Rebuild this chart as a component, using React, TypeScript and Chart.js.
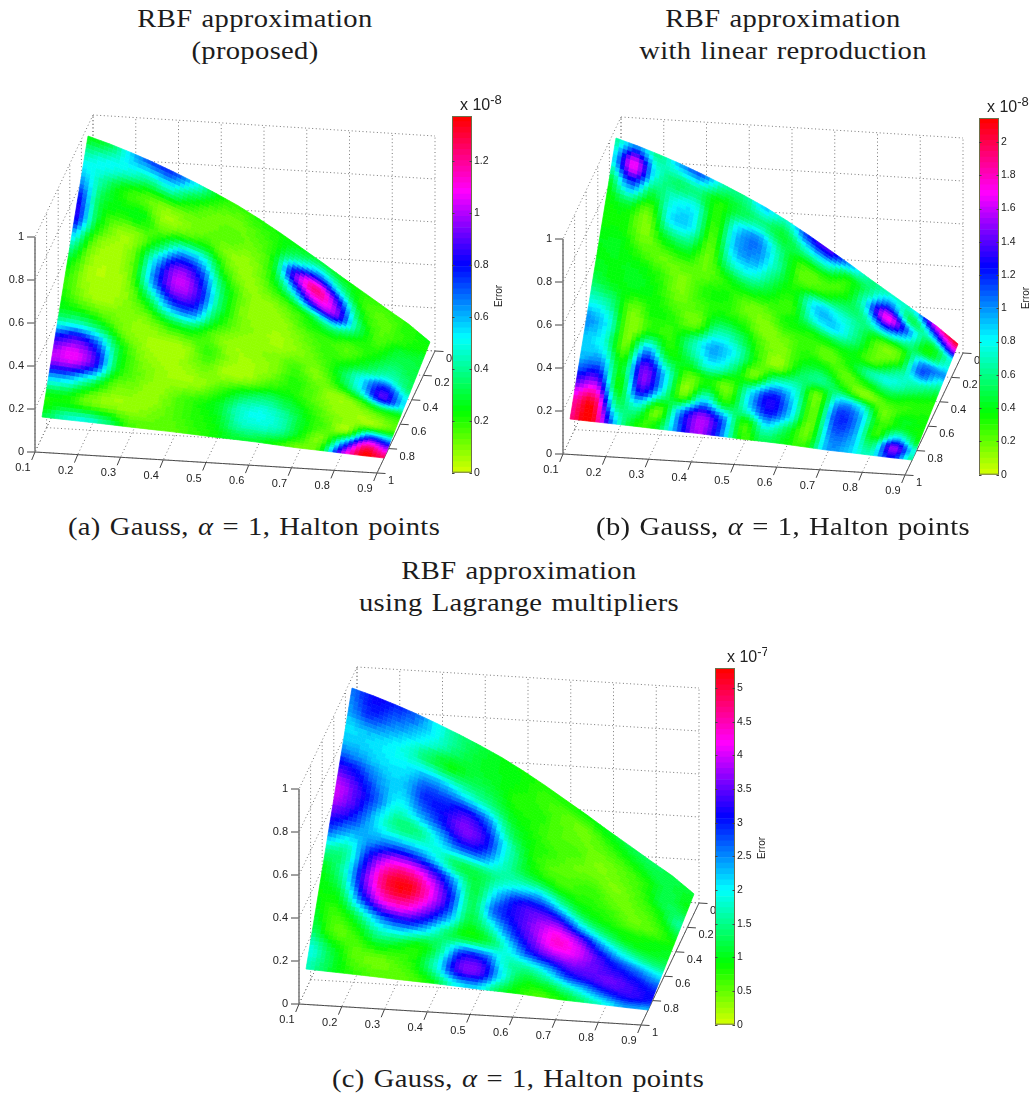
import React, { useEffect, useRef } from "react";
import { Chart, registerables } from "chart.js";

Chart.register(...registerables);

// Axis ticks of the 3D box
const X_TICKS = [0.1, 0.2, 0.3, 0.4, 0.5, 0.6, 0.7, 0.8, 0.9];
const Y_TICKS = [0, 0.2, 0.4, 0.6, 0.8, 1];
const Z_TICKS = [0, 0.2, 0.4, 0.6, 0.8, 1];

// Mesh coordinates of the surface
const MESH_X = [0.1, 0.15, 0.2, 0.25, 0.3, 0.35, 0.4, 0.45, 0.5, 0.55, 0.6, 0.65, 0.7, 0.75, 0.8, 0.85, 0.9];
const MESH_Y = [0.086, 0.143, 0.199, 0.256, 0.313, 0.369, 0.426, 0.483, 0.539, 0.596, 0.652, 0.709, 0.766, 0.822, 0.879];

// Surface height, one list per mesh column
const HEIGHT_COLUMNS = [
  [.951,.890,.829,.767,.706,.645,.584,.523,.461,.400,.339,.277,.216,.155,.094],
  [.921,.862,.802,.743,.683,.624,.565,.505,.446,.386,.327,.268,.208,.148,.089],
  [.887,.830,.772,.715,.657,.600,.543,.485,.428,.370,.313,.256,.198,.141,.084],
  [.850,.795,.740,.685,.630,.575,.519,.464,.409,.354,.299,.244,.189,.134,.079],
  [.809,.756,.704,.651,.599,.546,.493,.441,.388,.336,.283,.231,.178,.125,.073],
  [.766,.716,.666,.616,.566,.517,.467,.417,.367,.317,.267,.217,.168,.118,.068],
  [.720,.673,.626,.579,.532,.485,.439,.392,.345,.298,.251,.204,.157,.110,.063],
  [.671,.627,.583,.539,.496,.452,.408,.364,.320,.276,.232,.189,.145,.101,.057],
  [.615,.575,.534,.494,.453,.413,.373,.332,.292,.251,.211,.171,.130,.090,.050],
  [.555,.519,.482,.446,.409,.373,.336,.300,.264,.227,.191,.154,.118,.081,.045],
  [.491,.459,.426,.394,.362,.329,.297,.265,.233,.200,.168,.136,.104,.071,.039],
  [.427,.399,.370,.342,.314,.285,.257,.229,.201,.172,.144,.116,.088,.059,.031],
  [.360,.336,.312,.288,.264,.240,.215,.191,.167,.143,.119,.095,.071,.047,.023],
  [.296,.276,.256,.236,.216,.197,.177,.157,.137,.117,.097,.077,.058,.038,.018],
  [.231,.215,.200,.184,.169,.153,.137,.122,.106,.090,.075,.059,.043,.028,.012],
  [.168,.156,.145,.133,.122,.110,.098,.087,.075,.064,.052,.040,.029,.017,.006],
  [.091,.085,.078,.072,.065,.059,.052,.046,.040,.033,.027,.020,.014,.007,.001],
];

// Error, one list per mesh row (back to front), in units of the colour bar
const ERROR_A = [
  [.25,.3,.55,.72,.75,.55,.28,.18,.2,.22,.25,.3,.25,.2,.18,.2,.25],
  [.45,.5,.48,.4,.45,.28,.15,.12,.15,.22,.45,.65,.45,.2,.14,.2,.22],
  [.6,.4,.22,.15,.1,.12,.12,.15,.12,.25,.9,1.2,.85,.3,.15,.2,.28],
  [.8,.32,.24,.25,.1,.15,.2,.1,.08,.2,.55,.95,.95,.4,.16,.28,.3],
  [.85,.3,.1,.1,.3,.6,.55,.2,.08,.12,.2,.32,.42,.25,.2,.32,.3],
  [.55,.15,.06,.15,.6,.95,.8,.35,.12,.07,.1,.18,.2,.15,.25,.38,.32],
  [.3,.08,.05,.15,.65,.98,.88,.4,.12,.08,.07,.12,.18,.2,.35,.5,.35],
  [.2,.07,.05,.1,.35,.68,.7,.3,.12,.08,.06,.1,.15,.3,.55,.8,.5],
  [.22,.12,.08,.1,.12,.25,.28,.15,.07,.08,.1,.16,.1,.25,.5,.85,.5],
  [.35,.38,.28,.12,.07,.06,.08,.18,.08,.06,.1,.2,.14,.08,.15,.3,.25],
  [.8,.9,.7,.28,.1,.06,.07,.12,.06,.08,.18,.22,.15,.08,.07,.1,.15],
  [1.0,1.05,.85,.3,.14,.08,.06,.08,.18,.3,.38,.32,.22,.12,.08,.12,.2],
  [.6,.55,.35,.14,.1,.07,.14,.2,.28,.45,.5,.42,.25,.15,.12,.7,.6],
  [.22,.22,.12,.08,.07,.1,.15,.2,.25,.42,.45,.4,.22,.12,.6,1.2,1.0],
  [.3,.45,.5,.38,.18,.15,.14,.18,.22,.28,.28,.2,.12,.2,.95,1.37,1.25],
];

const ERROR_B = [
  [.6,1.0,.6,.95,1.1,.7,.6,.9,.7,1.2,1.4,.95,.6,.7,.8,1.7,2.1],
  [.8,1.7,.8,.55,.6,.35,.5,.6,.45,.7,.8,.4,.6,1.1,.5,1.0,1.6],
  [.45,1.05,.5,.75,.8,.3,.85,1.0,.6,.3,.3,.3,.8,1.7,1.0,.45,.8],
  [.35,.45,.2,.8,.8,.25,.9,1.0,.65,.25,.3,.5,.6,1.0,.7,.4,.8],
  [.35,.35,.15,.45,.5,.2,.7,.8,.5,.35,.85,.8,.6,.3,.3,.95,1.0],
  [.4,.4,.25,.2,.25,.2,.35,.45,.35,.3,.75,.85,.55,.2,.3,1.1,.7],
  [.4,.4,.4,.3,.15,.3,.35,.2,.2,.35,.35,.4,.4,.25,.6,.75,.5],
  [.5,.4,.4,.35,.2,.25,.35,.3,.15,.2,.3,.2,.35,.65,.75,.55,.35],
  [.75,.6,.2,.35,.3,.2,.65,.55,.25,.15,.35,.4,.2,.35,.5,.35,.3],
  [1.0,.8,.15,.35,.3,.65,.95,.75,.3,.15,.5,.6,.4,.15,.25,.3,.35],
  [.9,.75,.2,1.0,.4,.5,.8,.55,.2,.7,.7,.2,.9,.8,.2,.4,.35],
  [.95,1.0,.4,1.45,.85,.2,.35,.2,.8,1.25,.85,.2,1.12,1.0,.3,.45,.35],
  [1.35,1.45,.35,1.35,.8,.2,.8,.35,.8,1.25,.85,.2,1.1,1.0,.3,.9,.4],
  [1.8,2.0,.6,.7,.2,1.0,1.5,1.05,.3,.8,.5,.2,1.0,.95,.55,1.5,.7],
  [1.9,2.14,1.0,.35,.4,1.05,1.55,1.1,.3,.5,.4,.3,.95,.9,.7,1.25,.6],
];

const ERROR_C = [
  [2.6,3.1,3.0,2.7,2.0,1.5,1.2,1.0,.9,.8,.8,.9,1.0,1.2,1.3,1.2,1.1],
  [2.4,2.9,2.6,2.3,1.9,1.4,1.1,1.0,.9,.7,.6,.5,.7,.9,1.1,1.2,1.0],
  [2.1,2.2,2.1,1.8,1.3,1.0,1.2,1.1,.8,.8,.6,.5,.5,.6,.8,1.2,1.0],
  [2.5,2.3,2.1,2.1,2.4,2.2,1.8,1.5,1.0,.8,.6,.6,.4,.5,.7,1.2,1.3],
  [3.4,3.0,2.4,2.2,2.9,3.0,3.2,2.6,1.4,.9,.7,.5,.5,.4,.6,.9,1.6],
  [4.0,3.4,2.6,1.9,2.4,3.0,3.6,3.2,1.9,1.0,.6,.6,.7,.5,.5,.7,1.2],
  [3.6,3.1,2.2,1.5,1.5,2.1,2.8,2.7,1.8,1.2,1.0,.8,.8,.7,.5,.6,.9],
  [2.8,2.3,2.4,2.6,2.5,2.0,1.3,1.3,1.6,2.0,2.2,1.6,1.1,.9,.8,.9,1.0],
  [1.6,1.6,3.1,4.2,4.3,3.6,2.4,1.2,2.2,3.1,3.3,3.0,2.1,1.5,1.1,1.0,1.1],
  [1.0,1.7,3.5,4.9,5.2,4.3,3.0,1.3,2.6,3.2,3.7,4.1,3.6,2.6,1.9,1.5,1.4],
  [.9,1.2,2.9,4.2,4.4,3.7,2.6,1.2,1.8,2.8,3.6,4.3,4.1,3.4,2.8,2.4,2.0],
  [1.0,.7,1.4,2.4,2.8,2.4,1.5,1.0,1.2,2.0,3.0,3.5,3.7,3.5,3.3,3.0,2.6],
  [1.3,.6,.7,1.3,1.2,.9,1.5,2.9,2.9,1.8,1.7,2.2,3.0,3.3,3.5,3.3,3.0],
  [1.9,1.2,.6,.5,.6,.9,1.9,3.4,3.4,2.0,1.1,1.2,1.7,2.3,2.9,3.2,3.0],
  [1.7,1.2,.8,.6,.5,.6,1.0,1.9,2.1,1.2,.8,.6,.9,1.4,1.9,2.4,2.3],
];

// Colour bar scales
const BAR_MAX_A = 1.373;
const BAR_MAX_B = 2.144;
const BAR_MAX_C = 5.3;
const BAR_STEP_A = 0.2;
const BAR_STEP_B = 0.2;
const BAR_STEP_C = 0.5;
const BAR_EXPONENT_A = "-8";
const BAR_EXPONENT_B = "-8";
const BAR_EXPONENT_C = "-7";
const LEVELS = 64;

const TITLES_A = ["RBF approximation", "(proposed)"];
const TITLES_B = ["RBF approximation", "with linear reproduction"];
const TITLES_C = ["RBF approximation", "using Lagrange multipliers"];

const SERIF = '"Liberation Serif", serif';
const SANS = '"Liberation Sans", Arial, sans-serif';

function colourOf(f: number) {
  const lvl = Math.max(0, Math.min(LEVELS - 1, Math.floor(f * LEVELS)));
  const ff = lvl / (LEVELS - 1);
  const h = 72 + 288 * ff;
  const c = (n: number) => {
    const k = (n + h / 60) % 6;
    return Math.round(255 * (1 - Math.max(0, Math.min(k, 4 - k, 1))));
  };
  return `rgb(${c(5)},${c(3)},${c(1)})`;
}

// orthographic view of the box, in the surface chart's scale units
function project(x: number, y: number, z: number) {
  return {
    x: 35 + (x - 0.1) * 427.5 + (1 - y) * 58,
    y: 452 + (x - 0.1) * 26.25 - (1 - y) * 122 - z * 215,
  };
}

function cr(a: number, b: number, c: number, d: number, t: number) {
  return 0.5 * (2 * b + (c - a) * t + (2 * a - 5 * b + 4 * c - d) * t * t + (3 * b - a - 3 * c + d) * t * t * t);
}

function sample(g: number[][], r: number, c: number) {
  const R = g.length, C = g[0].length;
  const r0 = Math.min(R - 2, Math.floor(r)), c0 = Math.min(C - 2, Math.floor(c));
  const tr = r - r0, tc = c - c0;
  const at = (i: number, j: number) => g[Math.max(0, Math.min(R - 1, i))][Math.max(0, Math.min(C - 1, j))];
  const row = (i: number) => cr(at(i, c0 - 1), at(i, c0), at(i, c0 + 1), at(i, c0 + 2), tc);
  return cr(row(r0 - 1), row(r0), row(r0 + 1), row(r0 + 2), tr);
}

const line = (pts: { x: number; y: number }[], color: string, width: number, dash: number[]) => ({
  type: "scatter" as const,
  data: pts,
  showLine: true,
  borderColor: color,
  borderWidth: width,
  borderDash: dash,
  pointRadius: 0,
});

function SurfaceChart({ errors, max, left, top }: { errors: number[][]; max: number; left: number; top: number }) {
  const ref = useRef<HTMLCanvasElement>(null);
  useEffect(() => {
    const DOT = [1, 2.6];
    const GRID = "#777";
    const sets: any[] = [];
    const xa = X_TICKS[0], xb = X_TICKS[X_TICKS.length - 1];
    // back wall, y = 0
    X_TICKS.forEach((x) => sets.push(line([project(x, 0, 0), project(x, 0, 1)], GRID, 1, DOT)));
    Z_TICKS.forEach((z) => sets.push(line([project(xa, 0, z), project(xb, 0, z)], GRID, 1, DOT)));
    // side wall, x = 0.1
    Y_TICKS.forEach((y) => sets.push(line([project(xa, y, 0), project(xa, y, 1)], GRID, 1, DOT)));
    Z_TICKS.forEach((z) => sets.push(line([project(xa, 0, z), project(xa, 1, z)], GRID, 1, DOT)));
    // floor
    X_TICKS.forEach((x) => sets.push(line([project(x, 0, 0), project(x, 1, 0)], GRID, 1, DOT)));
    Y_TICKS.forEach((y) => sets.push(line([project(xa, y, 0), project(xb, y, 0)], GRID, 1, DOT)));
    // solid axes
    const AX = "#444";
    sets.push(line([project(xa, 1, 0), project(xa, 1, 1)], "#808080", 1.6, []));
    sets.push(line([project(xa, 1, 0), project(xb, 1, 0)], AX, 1, []));
    sets.push(line([project(xb, 1, 0), project(xb, 0, 0)], "#555", 1, []));
    Z_TICKS.forEach((z) => {
      const p = project(xa, 1, z);
      sets.push(line([p, { x: p.x - 8, y: p.y }], AX, 1, []));
    });
    X_TICKS.forEach((x) => {
      const p = project(x, 1, 0);
      sets.push(line([p, { x: p.x - 3.3, y: p.y + 8 }], AX, 1, []));
    });
    Y_TICKS.forEach((y) => {
      const p = project(xb, y, 0);
      sets.push(line([p, { x: p.x + 8.5, y: p.y + 0.5 }], AX, 1, []));
    });
    // mesh
    const mesh: { x: number; y: number }[] = [];
    MESH_Y.forEach((y, j) => MESH_X.forEach((x, i) => mesh.push(project(x, y, HEIGHT_COLUMNS[i][j]))));
    const meshIndex = sets.length;
    sets.push({ type: "scatter", data: mesh, pointRadius: 0, showLine: false });

    const surfacePlugin = {
      id: "surface",
      afterDatasetsDraw(chart: any) {
        const ctx: CanvasRenderingContext2D = chart.ctx;
        const pts = chart.getDatasetMeta(meshIndex).data;
        const C = MESH_X.length, R = MESH_Y.length, N = 5;
        ctx.save();
        ctx.lineWidth = 0.7;
        ctx.lineJoin = "round";
        for (let j = 0; j < R - 1; j++) {
          for (let i = 0; i < C - 1; i++) {
            const a = pts[j * C + i], b = pts[j * C + i + 1], c = pts[(j + 1) * C + i], d = pts[(j + 1) * C + i + 1];
            const pos = (s: number, t: number) => ({
              x: (1 - t) * ((1 - s) * a.x + s * b.x) + t * ((1 - s) * c.x + s * d.x),
              y: (1 - t) * ((1 - s) * a.y + s * b.y) + t * ((1 - s) * c.y + s * d.y),
            });
            for (let q = 0; q < N; q++) {
              for (let p = 0; p < N; p++) {
                const s0 = p / N, s1 = (p + 1) / N, t0 = q / N, t1 = (q + 1) / N;
                const v = sample(errors, j + (q + 0.5) / N, i + (p + 0.5) / N);
                const col = colourOf(v / max);
                const A = pos(s0, t0), B = pos(s1, t0), D = pos(s1, t1), E = pos(s0, t1);
                ctx.fillStyle = col;
                ctx.strokeStyle = col;
                ctx.beginPath();
                ctx.moveTo(A.x, A.y);
                ctx.lineTo(B.x, B.y);
                ctx.lineTo(D.x, D.y);
                ctx.lineTo(E.x, E.y);
                ctx.closePath();
                ctx.fill();
                ctx.stroke();
              }
            }
          }
        }
        // tick labels
        const sx = chart.scales.x, sy = chart.scales.y;
        ctx.fillStyle = "#222";
        ctx.font = `11px ${SANS}`;
        ctx.textBaseline = "middle";
        ctx.textAlign = "right";
        Z_TICKS.forEach((z) => {
          const p = project(xa, 1, z);
          ctx.fillText(String(z), sx.getPixelForValue(p.x - 11), sy.getPixelForValue(p.y));
        });
        ctx.textAlign = "center";
        X_TICKS.forEach((x) => {
          const p = project(x, 1, 0);
          ctx.fillText(String(x), sx.getPixelForValue(p.x - 12), sy.getPixelForValue(p.y + 16));
        });
        ctx.textAlign = "left";
        Y_TICKS.forEach((y) => {
          const p = project(xb, y, 0);
          ctx.fillText(String(y), sx.getPixelForValue(p.x + 11), sy.getPixelForValue(p.y + 8));
        });
        ctx.restore();
      },
    };

    const chart = new Chart(ref.current!, {
      type: "scatter",
      data: { datasets: sets },
      options: {
        animation: false,
        responsive: false,
        layout: { padding: 0 },
        plugins: { legend: { display: false }, tooltip: { enabled: false }, title: { display: false } },
        scales: {
          x: { type: "linear", display: false, min: 0, max: 452 },
          y: { type: "linear", display: false, min: 100, max: 510, reverse: true },
        },
      },
      plugins: [surfacePlugin as any],
    } as any);
    return () => chart.destroy();
  }, [errors, max]);
  return <canvas ref={ref} width={452} height={410} style={{ position: "absolute", left, top, width: 452, height: 410 }} />;
}

function ColourBar({ max, step, exponent, left, top, expShift }: { max: number; step: number; exponent: string; left: number; top: number; expShift: number }) {
  const ref = useRef<HTMLCanvasElement>(null);
  useEffect(() => {
    const bands = Array.from({ length: LEVELS }, (_, i) => ({
      label: "band" + i,
      data: [max / LEVELS],
      backgroundColor: colourOf((i + 0.5) / LEVELS),
      borderWidth: 0,
      barPercentage: 1,
      categoryPercentage: 1,
      stack: "bar",
    }));
    const deco = {
      id: "deco",
      afterDatasetsDraw(chart: any) {
        const ctx: CanvasRenderingContext2D = chart.ctx;
        const { left: l, right: r, top: t, bottom: b } = chart.chartArea;
        const sy = chart.scales.y;
        ctx.save();
        ctx.strokeStyle = "#6e6e4a";
        ctx.lineWidth = 1;
        ctx.strokeRect(l + 0.5, t + 0.5, r - l - 1, b - t - 1);
        ctx.strokeStyle = "#444";
        sy.ticks.forEach((tk: any) => {
          const y = Math.round(sy.getPixelForValue(tk.value)) + 0.5;
          ctx.beginPath();
          ctx.moveTo(l, y);
          ctx.lineTo(l + 2.5, y);
          ctx.moveTo(r - 2.5, y);
          ctx.lineTo(r, y);
          ctx.stroke();
        });
        ctx.fillStyle = "#222";
        ctx.textBaseline = "middle";
        ctx.textAlign = "left";
        ctx.font = `16px ${SANS}`;
        ctx.fillText("x 10", l + 8 + expShift, t - 10);
        const w = ctx.measureText("x 10").width;
        ctx.font = `13px ${SANS}`;
        ctx.fillText(exponent, l + 8 + expShift + w, t - 16);
        ctx.translate(l + 47, t + 180);
        ctx.rotate(-Math.PI / 2);
        ctx.textAlign = "center";
        ctx.font = `10px ${SANS}`;
        ctx.fillText("Error", 0, 0);
        ctx.restore();
      },
    };
    const chart = new Chart(ref.current!, {
      type: "bar",
      data: { labels: ["Error"], datasets: bands },
      options: {
        animation: false,
        responsive: false,
        layout: { padding: { top: 26, bottom: 8, left: 0, right: 0 } },
        plugins: { legend: { display: false }, tooltip: { enabled: false } },
        scales: {
          x: { display: false, stacked: true },
          y: {
            position: "right",
            stacked: true,
            min: 0,
            max,
            afterFit: (s: any) => { s.width = 32; },
            border: { display: false },
            grid: { display: false, drawTicks: false },
            ticks: {
              stepSize: step,
              includeBounds: false,
              padding: 2,
              color: "#222",
              font: { family: SANS, size: 10.5 },
              callback: (v: any) => String(+Number(v).toFixed(2)),
            },
          },
        },
      },
      plugins: [deco as any],
    } as any);
    return () => chart.destroy();
  }, [max, step, exponent, expShift]);
  return <canvas ref={ref} width={52} height={391} style={{ position: "absolute", left, top: top - 26, width: 52, height: 391 }} />;
}

function Line({ cx, cy, children }: { cx: number; cy: number; children: React.ReactNode }) {
  return (
    <div
      style={{
        position: "absolute",
        left: cx,
        top: cy - 16,
        height: 32,
        lineHeight: "32px",
        transform: "translateX(-50%) scaleX(1.1)",
        whiteSpace: "nowrap",
        fontFamily: SERIF,
        fontSize: 26,
        letterSpacing: "0.3px",
        wordSpacing: "1.5px",
        color: "#1c1c1c",
      }}
    >
      {children}
    </div>
  );
}

function Caption({ tag, cx, cy }: { tag: string; cx: number; cy: number }) {
  return (
    <Line cx={cx} cy={cy}>
      {tag} Gauss, <i>α</i> = 1, Halton points
    </Line>
  );
}

export default function App() {
  return (
    <div style={{ position: "absolute", left: 0, top: 0, width: 1031, height: 1096, overflow: "hidden", background: "#fff" }}>
      <Line cx={255} cy={19}>{TITLES_A[0]}</Line>
      <Line cx={255} cy={51}>{TITLES_A[1]}</Line>
      <Line cx={783} cy={19}>{TITLES_B[0]}</Line>
      <Line cx={783} cy={51}>{TITLES_B[1]}</Line>
      <Line cx={519} cy={571}>{TITLES_C[0]}</Line>
      <Line cx={519} cy={603}>{TITLES_C[1]}</Line>
      <SurfaceChart errors={ERROR_A} max={BAR_MAX_A} left={0} top={100} />
      <SurfaceChart errors={ERROR_B} max={BAR_MAX_B} left={528} top={102} />
      <SurfaceChart errors={ERROR_C} max={BAR_MAX_C} left={264} top={652} />
      <ColourBar max={BAR_MAX_A} step={BAR_STEP_A} exponent={BAR_EXPONENT_A} left={452} top={116} expShift={0} />
      <ColourBar max={BAR_MAX_B} step={BAR_STEP_B} exponent={BAR_EXPONENT_B} left={979} top={118} expShift={0} />
      <ColourBar max={BAR_MAX_C} step={BAR_STEP_C} exponent={BAR_EXPONENT_C} left={715} top={668} expShift={4} />
      <Caption tag="(a)" cx={254} cy={527} />
      <Caption tag="(b)" cx={783} cy={527} />
      <Caption tag="(c)" cx={518} cy={1079} />
    </div>
  );
}
